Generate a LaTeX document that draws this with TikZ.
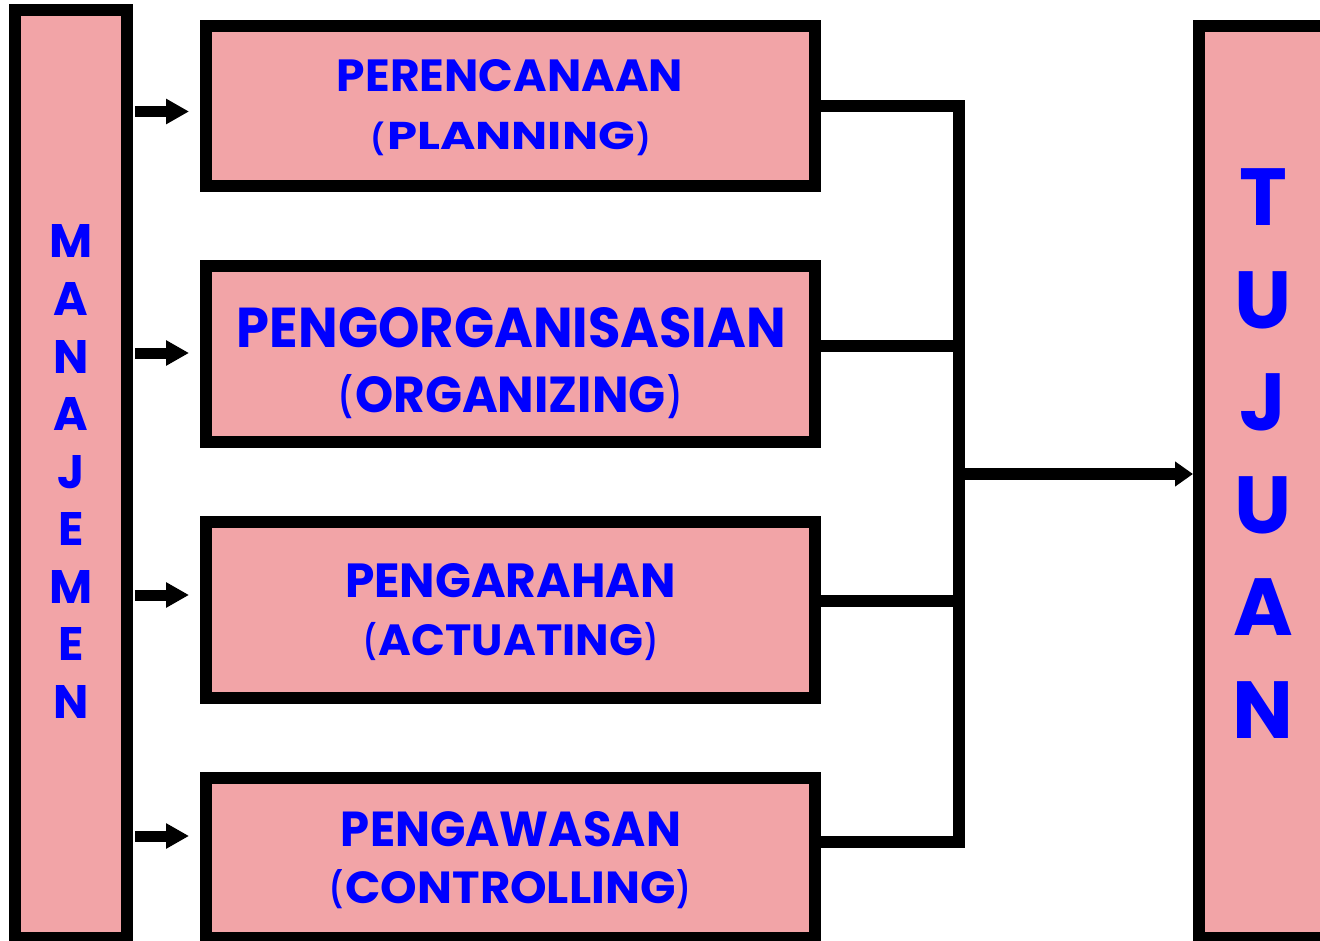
\documentclass[tikz,border=0pt]{standalone}
\usepackage{fontspec}
\setmainfont{Poppins}
\usetikzlibrary{arrows.meta}
\definecolor{boxpink}{RGB}{242,164,167}
\definecolor{txtblue}{RGB}{0,0,255}
\newcommand\fitline[3]{\resizebox{#1pt}{#2pt}{\fontsize{40pt}{40pt}\selectfont\bfseries #3}}
\newcommand\lpar{\raisebox{1pt}{\smash{\scalebox{0.55}[0.78]{(}}}\hspace{2pt}}
\newcommand\rpar{\hspace{2pt}\raisebox{1pt}{\smash{\scalebox{0.55}[0.78]{)}}}}
\begin{document}
\begin{tikzpicture}[x=1pt,y=-1pt,
  box/.style={draw=black, fill=boxpink, line width=12pt, rectangle, inner sep=0pt},
  lbl/.style={text=txtblue, anchor=base, inner sep=0pt},
  smallarrow/.style={line width=11pt, -{Triangle[length=23pt,width=24pt]}},
  conn/.style={line width=12pt, line join=miter},
  bigarrow/.style={line width=12pt, -{Triangle[length=18pt,width=24pt]}}]
\clip (0,0) rectangle (1320,941);
\fill[white] (0,0) rectangle (1320,941);
% boxes
\node[box, minimum width=112pt, minimum height=928pt] (man) at (71,474) {};
\node[box, minimum width=141pt, minimum height=912pt] (tuj) at (1269.5,482) {};
\node[box, minimum width=609pt, minimum height=160pt] (b1) at (510.5,106) {};
\node[box, minimum width=609pt, minimum height=176pt] (b2) at (510.5,354) {};
\node[box, minimum width=609pt, minimum height=176pt] (b3) at (510.5,610) {};
\node[box, minimum width=609pt, minimum height=160pt] (b4) at (510.5,858) {};
% box texts
\node[lbl] (t1a) at (510,92) {\fitline{346}{32}{PERENCANAAN}};
\node[lbl] (t1b) at (511,150) {\fitline{278}{27.5}{\lpar PLANNING\rpar}};
\node[lbl] (t2a) at (511.5,347) {\fitline{549}{40}{PENGORGANISASIAN}};
\node[lbl] (t2b) at (510.5,412) {\fitline{341}{36}{\lpar ORGANIZING\rpar}};
\node[lbl] (t3a) at (510.5,597) {\fitline{331}{34}{PENGARAHAN}};
\node[lbl] (t3b) at (511,655) {\fitline{292}{31}{\lpar ACTUATING\rpar}};
\node[lbl] (t4a) at (511,846) {\fitline{340}{35}{PENGAWASAN}};
\node[lbl] (t4b) at (510.5,903) {\fitline{359}{32}{\lpar CONTROLLING\rpar}};
% vertical words
\foreach \ch [count=\i from 0] in {M,A,N,A,J,E,M,E,N}
  \node[lbl, font=\bfseries\fontsize{47pt}{47pt}\selectfont] (m\i) at (71,258+57.5*\i) {\ch};
\foreach \ch [count=\i from 0] in {T,U,J,U,A,N}
  \node[lbl, font=\bfseries\fontsize{81pt}{81pt}\selectfont] (u\i) at (1263,226+102.4*\i) {\ch};
% small arrows
\coordinate (s1) at ([yshift=-5.5pt]b1.west);
\coordinate (s2) at ([yshift=1pt]b2.west);
\coordinate (s3) at ([yshift=15pt]b3.west);
\coordinate (s4) at ([yshift=22pt]b4.west);
\foreach \k in {1,2,3,4}
  \draw[smallarrow] ([xshift=2pt]man.east |- s\k) -- ([xshift=-11pt]s\k);
% connectors
\coordinate (jx) at (959,0);
\coordinate (c1) at (b1.east);
\coordinate (c2) at ([yshift=8pt]b2.east);
\coordinate (c3) at ([yshift=9pt]b3.east);
\coordinate (c4) at ([yshift=16pt]b4.east);
\draw[conn] (c1) -- (c1 -| jx) -- (c4 -| jx) -- (c4);
\draw[conn] (c2) -- (c2 -| jx);
\draw[conn] (c3) -- (c3 -| jx);
\coordinate (am) at (953,474);
\draw[bigarrow] (am) -- (am -| tuj.west);
\end{tikzpicture}
\end{document}
